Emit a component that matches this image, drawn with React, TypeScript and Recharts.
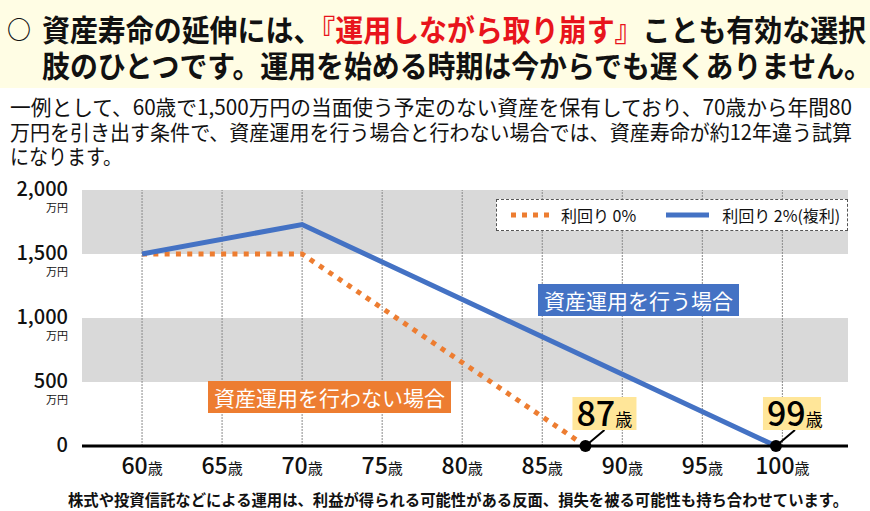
import {
  LineChart,
  Line,
  XAxis,
  YAxis,
  ReferenceArea,
  ReferenceLine,
  ReferenceDot,
  Legend,
} from 'recharts';

// 年齢と資産残高（万円）
const ageTicks = [60, 65, 70, 75, 80, 85, 90, 95, 100];
const yTicks = [0, 500, 1000, 1500, 2000];
const bandFrom = [500, 1500];
const bandTo = [1000, 2000];

const flatAges = [60, 70, 87.7];
const flatValues = [1500, 1500, 0];
const investAges = [60, 70, 99.6];
const investValues = [1500, 1730, 0];

const calloutAges = [87.7, 99.6];
const calloutLabels = ['87', '99'];

const introLines = [
  '一例として、60歳で1,500万円の当面使う予定のない資産を保有しており、70歳から年間80',
  '万円を引き出す条件で、資産運用を行う場合と行わない場合では、資産寿命が約12年違う試算',
  'になります。',
];

const FONT = "'Noto Sans CJK JP', 'Noto Sans', sans-serif";
const BLUE = '#4472C4';
const ORANGE = '#ED7D31';

const flatData = flatAges.map((age, i) => ({ age, value: flatValues[i] }));
const investData = investAges.map((age, i) => ({ age, value: investValues[i] }));

const YTick = ({ x, y, payload }: any) => (
  <g>
    <text x={x - 6} y={y + 6} textAnchor="end" fontSize={20} fontWeight={500} fill="#111" fontFamily={FONT}>
      {payload.value.toLocaleString('en-US')}
    </text>
    {payload.value > 0 && (
      <text x={x - 6} y={y + 22} textAnchor="end" fontSize={11} fill="#111" fontFamily={FONT}>
        万円
      </text>
    )}
  </g>
);

const XTick = ({ x, y, payload }: any) => (
  <text x={x} y={y + 20} textAnchor="middle" fill="#111" fontFamily={FONT}>
    <tspan fontSize={23} fontWeight={500}>{payload.value}</tspan>
    <tspan fontSize={15}>歳</tspan>
  </text>
);

const Callout = ({ cx, cy, label }: any) => (
  <g>
    <line x1={cx} y1={cy} x2={cx + 19} y2={cy - 16} stroke="#000" strokeWidth={2} />
    <rect x={cx - 13} y={cy - 49} width={label === '87' ? 64 : 58} height={33} fill="#FFE699" />
    <text x={cx - 9} y={cy - 20} fill="#000" fontFamily={FONT}>
      <tspan fontSize={34} fontWeight={500}>{label}</tspan>
      <tspan fontSize={17}>歳</tspan>
    </text>
    <circle cx={cx} cy={cy} r={6} fill="#000" />
  </g>
);

const LegendBox = () => (
  <div
    style={{
      width: 352,
      height: 32,
      border: '1px dashed #555',
      background: '#fff',
      display: 'flex',
      alignItems: 'center',
      fontFamily: FONT,
      fontSize: 16,
      color: '#111',
      boxSizing: 'border-box',
    }}
  >
    <svg width={52} height={10} style={{ marginLeft: 12 }}>
      <line x1={2} y1={5} x2={42} y2={5} stroke={ORANGE} strokeWidth={5} strokeDasharray="5 6" />
    </svg>
    <span>利回り 0%</span>
    <svg width={50} height={10} style={{ marginLeft: 28 }}>
      <line x1={2} y1={5} x2={45} y2={5} stroke={BLUE} strokeWidth={5} />
    </svg>
    <span style={{ marginLeft: 8 }}>利回り 2%(複利)</span>
  </div>
);

const boxLabel = (bg: string): React.CSSProperties => ({
  position: 'absolute',
  background: bg,
  color: '#fff',
  fontFamily: FONT,
  fontSize: 21,
  lineHeight: '32px',
  padding: '0 6px',
  whiteSpace: 'nowrap',
});

export default function App() {
  return (
    <div
      style={{
        position: 'absolute',
        left: 0,
        top: 0,
        width: 870,
        height: 511,
        background: '#fff',
        overflow: 'hidden',
        fontFamily: FONT,
      }}
    >
      <svg width={870} height={511} style={{ position: 'absolute', left: 0, top: 0 }} fontFamily={FONT} fill="#111">
        <rect x={0} y={0} width={870} height={88} fill="#FFFDE4" />
        <text x={7} y={39} fontSize={25} fontWeight={700} textLength={24} lengthAdjust="spacingAndGlyphs">○</text>
        <text x={42} y={41} fontSize={30} fontWeight={700} textLength={824} lengthAdjust="spacingAndGlyphs">
          資産寿命の延伸には、<tspan fill="#E8141C">『運用しながら取り崩す』</tspan>ことも有効な選択
        </text>
        <text x={42} y={77} fontSize={30} fontWeight={700} textLength={830} lengthAdjust="spacingAndGlyphs">
          肢のひとつです。運用を始める時期は今からでも遅くありません。
        </text>
        {introLines.map((t, i) => (
          <text
            key={i}
            x={10}
            y={115 + i * 24.5}
            fontSize={21}
            textLength={i < 2 ? 842 : 112}
            lengthAdjust="spacingAndGlyphs"
          >
            {t}
          </text>
        ))}
        <text x={68} y={506} fontSize={15.5} fontWeight={700} textLength={780} lengthAdjust="spacingAndGlyphs">
          株式や投資信託などによる運用は、利益が得られる可能性がある反面、損失を被る可能性も持ち合わせています。
        </text>
      </svg>

      <div style={{ position: 'absolute', left: 0, top: 0 }}>
        <LineChart width={870} height={511} margin={{ top: 190, right: 22, bottom: 0, left: 0 }}>
          <XAxis
            type="number"
            dataKey="age"
            domain={[56.25, 104.1]}
            ticks={ageTicks}
            tick={<XTick />}
            axisLine={{ stroke: '#000', strokeWidth: 3 }}
            tickLine={false}
            height={65}
            allowDuplicatedCategory={false}
          />
          <YAxis
            type="number"
            domain={[0, 2000]}
            ticks={yTicks}
            tick={<YTick />}
            axisLine={false}
            tickLine={false}
            width={82}
          />
          {bandFrom.map((from, i) => (
            <ReferenceArea key={from} y1={from} y2={bandTo[i]} fill="#D9D9D9" fillOpacity={1} stroke="none" />
          ))}
          {ageTicks.map((a) => (
            <ReferenceLine key={a} x={a} stroke="#8a8a8a" strokeWidth={1} strokeDasharray="2 1" />
          ))}
          <Legend
            layout="horizontal"
            verticalAlign="middle"
            align="center"
            content={<LegendBox />}
            wrapperStyle={{ position: 'absolute', left: 496, top: 199, width: 352, height: 32 }}
          />
          <Line
            data={flatData}
            dataKey="value"
            type="linear"
            stroke={ORANGE}
            strokeWidth={5}
            strokeDasharray="5 6.3"
            dot={false}
            activeDot={false}
            isAnimationActive={false}
          />
          <Line
            data={investData}
            dataKey="value"
            type="linear"
            stroke={BLUE}
            strokeWidth={5}
            dot={false}
            activeDot={false}
            isAnimationActive={false}
          />
          {calloutAges.map((age, i) => (
            <ReferenceDot
              key={age}
              x={age}
              y={0}
              r={6}
              ifOverflow="visible"
              shape={(p: any) => <Callout cx={p.cx} cy={p.cy} label={calloutLabels[i]} />}
            />
          ))}
        </LineChart>
      </div>

      <div style={{ ...boxLabel(BLUE), left: 538, top: 284 }}>資産運用を行う場合</div>
      <div style={{ ...boxLabel(ORANGE), left: 208, top: 381 }}>資産運用を行わない場合</div>
    </div>
  );
}
